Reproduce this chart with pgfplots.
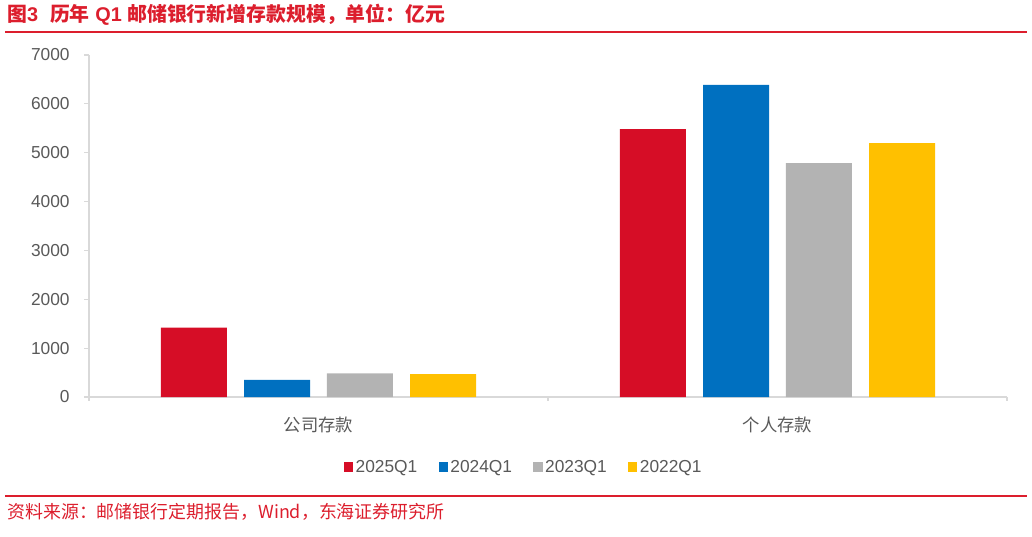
\documentclass[border=0pt]{standalone}
\usepackage{fontspec}
\setmainfont{Liberation Sans}
\newfontfamily\cjk{Noto Sans CJK SC}
\usepackage{pgfplots}
\pgfplotsset{compat=1.18}

\definecolor{cred}{HTML}{D60D26}
\definecolor{cblue}{HTML}{0070C0}
\definecolor{cgray}{HTML}{B3B3B3}
\definecolor{cyel}{HTML}{FFC000}
\definecolor{tred}{HTML}{DC1E2D}
\definecolor{axgray}{HTML}{D9D9D9}
\definecolor{txtgray}{HTML}{595959}

\begin{document}
\begin{tikzpicture}
\path[use as bounding box] (0pt,0pt) rectangle (774pt,402pt);
% title and rules
\node[anchor=west, text=tred, inner sep=0, font=\fontsize{14.9}{17}\selectfont\bfseries]
  at (5.25pt,390.75pt) {{\cjk 图}3\hspace{0.6em}{\cjk 历年} Q1 {\cjk 邮储银行新增存款规模，单位：亿元}};
\draw[tred, line width=1pt] (3.75pt,378pt) -- (770.25pt,378pt);
\draw[tred, line width=1.5pt] (3.75pt,30pt) -- (770.25pt,30pt);
\node[anchor=west, text=tred, inner sep=0, font=\fontsize{13.45}{15}\selectfont\cjk]
  at (5.25pt,18pt) {资料来源：邮储银行定期报告，Wind，东海证券研究所};

\begin{axis}[
    at={(66.75pt,104.25pt)}, anchor=south west,
    scale only axis, width=688.5pt, height=256.5pt,
    xmin=-0.5, xmax=1.5, ymin=0, ymax=7000,
    ybar, bar width=49.5pt,
    axis x line=bottom, axis y line=left,
    axis line style={axgray, line width=0.9pt, -},
    xtick={0,1},
    xticklabels={{\cjk 公司存款},{\cjk 个人存款}},
    xtick style={draw=none},
    x tick label style={font=\fontsize{13}{15}\selectfont, text=txtgray, anchor=center, yshift=-17.25pt},
    ytick={0,1000,...,7000},
    ytick style={axgray, line width=0.9pt},
    tick align=outside, major tick length=3.5pt,
    y tick label style={font=\fontsize{13}{15}\selectfont, text=txtgray, xshift=-7.5pt},
    scaled y ticks=false,
    /pgf/number format/.cd, 1000 sep={}, assume math mode=true, /pgfplots/.cd,
    legend style={at={(0.474,-0.2047)}, anchor=center, draw=none, fill=none,
      legend columns=4, font=\fontsize{13}{15}\selectfont, text=txtgray,
      /tikz/every even column/.append style={column sep=14pt}},
    legend image code/.code={\fill[#1,draw=none] (0pt,-3.4pt) rectangle (6.8pt,3.4pt);},
    clip=false,
]
\addplot[fill=cred, draw=none, bar shift=-93.4pt] coordinates {(0,1420) (1,5485)};
\addplot[fill=cblue, draw=none, bar shift=-31.1pt] coordinates {(0,350) (1,6390)};
\addplot[fill=cgray, draw=none, bar shift=31.1pt] coordinates {(0,485) (1,4785)};
\addplot[fill=cyel, draw=none, bar shift=93.4pt] coordinates {(0,470) (1,5195)};
\legend{2025Q1,2024Q1,2023Q1,2022Q1}
\draw[axgray, line width=0.9pt] (axis cs:-0.5,0) -- ++(0pt,-3pt);
\draw[axgray, line width=0.9pt] (axis cs:0.5,0) -- ++(0pt,-3pt);
\draw[axgray, line width=0.9pt] (axis cs:1.5,0) -- ++(0pt,-3pt);
\end{axis}
\end{tikzpicture}
\end{document}
